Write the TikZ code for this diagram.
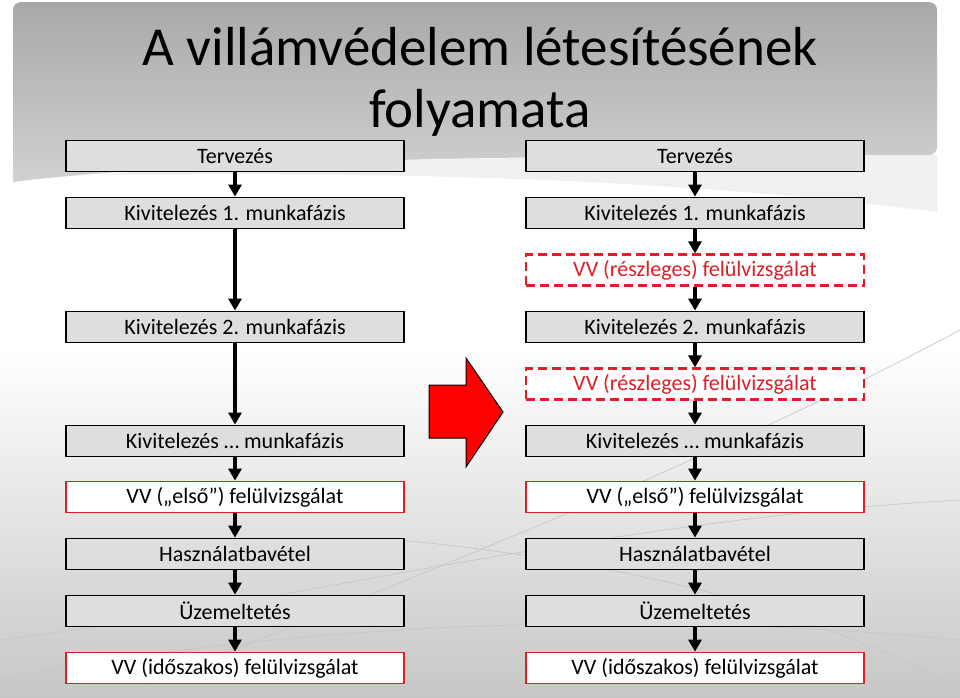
\documentclass[tikz,border=0pt]{standalone}
\usepackage{fontspec}
\setmainfont{Carlito}
\usetikzlibrary{arrows.meta}
\definecolor{vvred}{RGB}{222,30,40}
\definecolor{boxgray}{RGB}{222,222,222}
\tikzset{
  boxtext/.style={font=\fontsize{22}{24}\selectfont},
  stepbox/.style={boxtext, draw=black, line width=1.8pt, fill=boxgray, minimum width=338pt, minimum height=31pt, inner sep=0pt},
  vvbox/.style={boxtext, draw=vvred, line width=1.8pt, fill=white, minimum width=338pt, minimum height=31pt, inner sep=0pt},
  vvdash/.style={boxtext, draw=vvred, line width=2.2pt, dash pattern=on 9pt off 5pt, fill=white, minimum width=338pt, minimum height=31pt, inner sep=0pt, text=vvred},
  flow/.style={line width=4pt, -{Triangle[width=13pt,length=12pt]}},
  swoosh/.style={draw=gray!45, line width=0.7pt},
  titletext/.style={font=\fontsize{55}{60}\selectfont, anchor=base, inner sep=0pt}
}
\begin{document}
\begin{tikzpicture}[x=1pt,y=-1pt]
\useasboundingbox (0,0) rectangle (960,697);
% background
\fill[white] (0,0) rectangle (960,350);
\shade[top color=white, bottom color=black!22] (0,350) rectangle (960,697);
% swooshes
\draw[swoosh] (0,640) .. controls (250,610) and (600,520) .. (960,500);
\draw[swoosh] (0,680) .. controls (300,620) and (650,610) .. (960,640);
\draw[swoosh] (120,697) .. controls (350,600) and (700,470) .. (960,330);
\draw[swoosh] (400,540) .. controls (600,560) and (800,600) .. (960,690);
% title banner
\shade[top color=black!34, bottom color=black!18, rounded corners=8pt]
  (13,182) -- (13,2) -- (937,2) -- (937,155) [sharp corners] .. controls (600,155) and (200,158) .. (13,182) -- cycle;
\fill[black!6] (937,155) .. controls (600,155) and (250,160) .. (100,175) .. controls (350,172) and (650,175) .. (937,212) -- cycle;
\node[titletext] (title1) at (480,65) {A villámvédelem létesítésének};
\node[titletext] (title2) at (480,127) {folyamata};
% left column
\node[stepbox] (l1) at (235,156) {Tervezés};
\node[stepbox] (l2) at (235,213) {Kivitelezés 1. munkafázis};
\node[stepbox] (l3) at (235,327) {Kivitelezés 2. munkafázis};
\node[stepbox] (l4) at (235,441) {Kivitelezés … munkafázis};
\node[vvbox]   (l5) at (235,497) {VV („első”) felülvizsgálat};
\node[stepbox] (l6) at (235,554) {Használatbavétel};
\node[stepbox] (l7) at (235,611) {Üzemeltetés};
\node[vvbox]   (l8) at (235,668) {VV (időszakos) felülvizsgálat};
\draw[flow] (l1) -- (l2);
\draw[flow] (l2) -- (l3);
\draw[flow] (l3) -- (l4);
\draw[flow] (l4) -- (l5);
\draw[flow] (l5) -- (l6);
\draw[flow] (l6) -- (l7);
\draw[flow] (l7) -- (l8);
% right column
\node[stepbox] (r1) at (695,156) {Tervezés};
\node[stepbox] (r2) at (695,213) {Kivitelezés 1. munkafázis};
\node[vvdash]  (r3) at (695,270) {VV (részleges) felülvizsgálat};
\node[stepbox] (r4) at (695,327) {Kivitelezés 2. munkafázis};
\node[vvdash]  (r5) at (695,384) {VV (részleges) felülvizsgálat};
\node[stepbox] (r6) at (695,441) {Kivitelezés … munkafázis};
\node[vvbox]   (r7) at (695,497) {VV („első”) felülvizsgálat};
\node[stepbox] (r8) at (695,554) {Használatbavétel};
\node[stepbox] (r9) at (695,611) {Üzemeltetés};
\node[vvbox]   (r10) at (695,668) {VV (időszakos) felülvizsgálat};
\draw[flow] (r1) -- (r2);
\draw[flow] (r2) -- (r3);
\draw[flow] (r3) -- (r4);
\draw[flow] (r4) -- (r5);
\draw[flow] (r5) -- (r6);
\draw[flow] (r6) -- (r7);
\draw[flow] (r7) -- (r8);
\draw[flow] (r8) -- (r9);
\draw[flow] (r9) -- (r10);
% big red arrow
\draw[fill=red, draw=black, line width=1pt, line join=miter]
  (429,385) -- (466,385) -- (466,358) -- (503,412) -- (466,467) -- (466,438) -- (429,438) -- cycle;
\end{tikzpicture}
\end{document}
